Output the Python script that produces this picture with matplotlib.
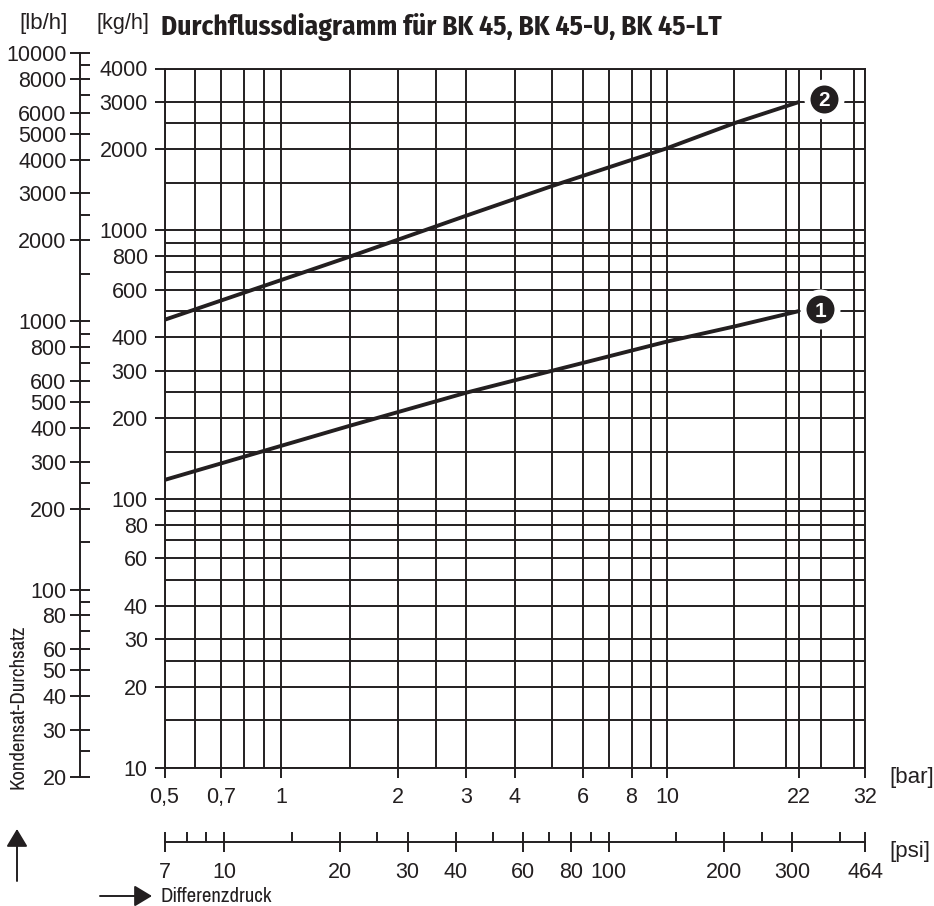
import matplotlib
matplotlib.use("Agg")
import matplotlib.pyplot as plt
from matplotlib.patches import FancyArrowPatch
from matplotlib.ticker import FixedLocator, FixedFormatter, NullFormatter

plt.rcParams['font.family'] = ['Liberation Sans', 'DejaVu Sans']
W, H = 934, 906
INK = '#231f20'

# --- data ---
title = 'Durchflussdiagramm für BK 45, BK 45-U, BK 45-LT'
bar_major = [0.5, 0.7, 1, 2, 3, 4, 6, 8, 9.87, 21.6, 32]
bar_labels = ['0,5', '0,7', '1', '2', '3', '4', '6', '8', '10', '22', '32']
bar_minor = [0.6, 0.8, 0.9, 1.5, 2.5, 5, 7, 9, 14.7, 20, 24.7, 30]
kg_major = [10, 20, 30, 40, 60, 80, 100, 200, 300, 400, 600, 800, 1000, 2000, 3000, 4000]
kg_minor = [15, 25, 50, 70, 90, 150, 250, 500, 700, 900, 1500, 2500]
lb_major = [20, 30, 40, 50, 60, 80, 100, 200, 300, 400, 500, 600, 800, 1000,
            2000, 3000, 4000, 5000, 6000, 8000, 10000]
lb_minor = [25, 70, 90, 150, 250, 700, 900, 1500, 2500, 7000, 9000]
psi_major = [7, 10, 20, 30, 40, 60, 80, 100, 200, 300, 464]
psi_minor = [8, 9, 15, 25, 50, 70, 90, 150, 250, 400]
curve_x = [0.5, 1.5, 3, 5, 9.87, 14.7, 21.6]
curve1_y = [117.6, 187, 248.5, 300, 385, 438, 500]
curve2_y = [464, 797, 1133, 1462, 2019, 2501, 3000]
badge_x = [24.5, 25.1]
badge_y = [509, 3092]
badge_text = ['1', '2']


def box(x0, y0, x1, y1):
    """pixel box (top-left origin) to figure fractions"""
    return [x0 / W, 1 - y1 / H, (x1 - x0) / W, (y1 - y0) / H]


def fx(x):
    return x / W


def fy(y):
    return 1 - y / H


fig = plt.figure(figsize=(W / 100, H / 100), dpi=100, facecolor='white')

# main chart
ax = fig.add_axes(box(164.5, 68.5, 865, 767.5))
ax.set_xscale('log')
ax.set_yscale('log')
ax.set_xlim(0.5, 32)
ax.set_ylim(10, 4000)
ax.xaxis.set_major_locator(FixedLocator(bar_major))
ax.xaxis.set_major_formatter(FixedFormatter(bar_labels))
ax.xaxis.set_minor_locator(FixedLocator(bar_minor))
ax.xaxis.set_minor_formatter(NullFormatter())
ax.yaxis.set_major_locator(FixedLocator(kg_major))
ax.yaxis.set_major_formatter(FixedFormatter([str(v) for v in kg_major]))
ax.yaxis.set_minor_locator(FixedLocator(kg_minor))
ax.yaxis.set_minor_formatter(NullFormatter())
ax.set_axisbelow(True)
ax.grid(which='both', color=INK, lw=1.4)
ax.tick_params(which='major', direction='out', length=7, width=1.4, color=INK,
               labelcolor=INK, labelsize=15.5)
ax.tick_params(axis='x', which='major', pad=7)
ax.tick_params(axis='y', which='major', pad=5)
ax.tick_params(which='minor', length=0)
for s in ax.spines.values():
    s.set_linewidth(1.4)
    s.set_color(INK)

ax.plot(curve_x, curve1_y, color=INK, lw=2.8, solid_capstyle='butt', zorder=3)
ax.plot(curve_x, curve2_y, color=INK, lw=2.8, solid_capstyle='butt', zorder=3)
ax.scatter(badge_x, badge_y, s=830, color='white', linewidths=0, zorder=5, clip_on=False)
ax.scatter(badge_x, badge_y, s=406, color=INK, linewidths=0, zorder=6, clip_on=False)
for bx, by, bt in zip(badge_x, badge_y, badge_text):
    ax.text(bx, by, bt, color='white', fontsize=15, fontweight='bold',
            ha='center', va='center_baseline', zorder=7)

# lb/h scale
lb = fig.add_axes(box(80, 53, 80.01, 777))
lb.patch.set_visible(False)
lb.set_yscale('log')
lb.set_ylim(20, 10000)
lb.set_xticks([])
lb.yaxis.set_major_locator(FixedLocator(lb_major))
lb.yaxis.set_major_formatter(FixedFormatter([str(v) for v in lb_major]))
lb.yaxis.set_minor_locator(FixedLocator(lb_minor))
lb.yaxis.set_minor_formatter(NullFormatter())
lb.tick_params(which='major', direction='inout', length=14.4, width=1.4, color=INK,
               labelcolor=INK, labelsize=15.5, pad=2.5)
lb.tick_params(which='minor', direction='out', left=False, right=True, length=7.5,
               width=1.4, color=INK)
for k in ('top', 'bottom', 'right'):
    lb.spines[k].set_visible(False)
lb.spines['left'].set_linewidth(1.4)
lb.spines['left'].set_color(INK)

# psi scale
psi = fig.add_axes(box(164.5, 842.3, 865, 842.31))
psi.patch.set_visible(False)
psi.set_xscale('log')
psi.set_xlim(7, 464)
psi.set_yticks([])
psi.xaxis.set_major_locator(FixedLocator(psi_major))
psi.xaxis.set_major_formatter(FixedFormatter([str(v) for v in psi_major]))
psi.xaxis.set_minor_locator(FixedLocator(psi_minor))
psi.xaxis.set_minor_formatter(NullFormatter())
psi.tick_params(which='major', direction='inout', length=14, width=1.4, color=INK,
                labelcolor=INK, labelsize=15.5, pad=7)
psi.tick_params(which='minor', direction='in', bottom=True, length=7, width=1.4, color=INK)
for k in ('top', 'left', 'right'):
    psi.spines[k].set_visible(False)
psi.spines['bottom'].set_linewidth(1.4)
psi.spines['bottom'].set_color(INK)


# free text
def label(x, y, s, **kw):
    kw.setdefault('color', INK)
    kw.setdefault('fontsize', 16)
    kw.setdefault('va', 'center')
    return fig.text(fx(x), fy(y), s, **kw)


NARROW = ['Archivo Narrow', 'Roboto Condensed', 'Liberation Sans', 'DejaVu Sans']
BOLD_NARROW = ['Fira Sans Condensed', 'IBM Plex Sans Condensed', 'Liberation Sans', 'DejaVu Sans']
label(19.5, 23.5, '[lb/h]', ha='left')
label(96, 23.5, '[kg/h]', ha='left', fontsize=15.6)
label(161, 27, title, ha='left', fontsize=19.7, fontweight='bold', family=BOLD_NARROW)
label(889, 778, '[bar]', ha='left')
label(889, 852, '[psi]', ha='left')
label(18, 707, 'Kondensat-Durchsatz', ha='center', rotation=90, fontsize=15, family=NARROW)
label(161, 896, 'Differenzdruck', ha='left', fontsize=15, family=NARROW)

# direction arrows
arrow = dict(arrowstyle='-|>,head_length=10.8,head_width=6.5', color=INK, lw=1.4,
             shrinkA=0, shrinkB=0, mutation_scale=1)
fig.add_artist(FancyArrowPatch((fx(17), fy(881)), (fx(17), fy(829)),
                               transform=fig.transFigure, **arrow))
fig.add_artist(FancyArrowPatch((fx(100), fy(896)), (fx(152), fy(896)),
                               transform=fig.transFigure, **arrow))

fig.savefig('out.png', dpi=100, facecolor='white')
